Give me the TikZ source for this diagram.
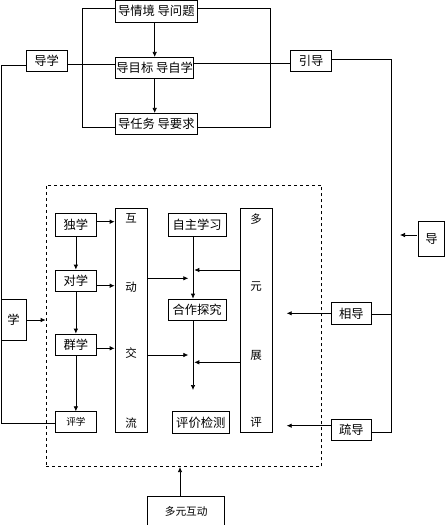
\documentclass[tikz,border=0pt]{standalone}
\usepackage{fontspec}
\setmainfont{Noto Sans CJK SC}
\usetikzlibrary{arrows.meta}
\begin{document}
\begin{tikzpicture}[x=1pt,y=-1pt,line width=0.7pt,
  box/.style={draw,inner sep=0pt,font=\fontsize{12.3}{13}\selectfont},
  sbox/.style={box,font=\fontsize{9.6}{11}\selectfont},
  mbox/.style={box,font=\fontsize{10.7}{11}\selectfont},
  ch/.style={inner sep=0pt,font=\fontsize{11.5}{12}\selectfont},
  arr/.style={-{Latex[length=5pt,width=4.5pt]}}]
\useasboundingbox (0,0) rectangle (445,525);
% top group
\node[box,minimum width=81.3pt,minimum height=21.5pt] (t1) at (156.3,11.2) {导情境 导问题};
\node[box,minimum width=78pt,minimum height=21pt] (m) at (154.7,67.8) {导目标 导自学};
\node[box,minimum width=81.3pt,minimum height=21pt] (b) at (156.3,123.8) {导任务 导要求};
\draw[arr] (t1.south -| m.north) -- (m.north);
\draw[arr] (m.south) -- (b.north -| m.south);
\draw (t1.west |- 0,8.7) -- (82.7,8.7) -- (82.7,127.3) -- (b.west |- 0,127.3);
\draw (t1.east |- 0,8.7) -- (270,8.7) -- (270,127.3) -- (b.east |- 0,127.3);
% left side
\node[box,minimum width=41.3pt,minimum height=21.3pt] (dx) at (46.7,60.7) {导学};
\draw (dx.east |- 0,64.7) -- (m.west |- 0,64.7);
\node[box,minimum width=25pt,minimum height=41pt] (xue) at (13.5,319.5) {学};
\node[sbox,minimum width=41.7pt,minimum height=21pt] (d4) at (75.85,422.2) {评学};
\draw (dx.west |- 0,65.3) -- (1,65.3) -- (1,423.3) -- (d4.west |- 0,423.3);
% dashed frame
\node[draw,dashed,inner sep=0pt,minimum width=275.7pt,minimum height=281.7pt] (frame) at (183.85,325.85) {};
\draw[arr] (xue.east |- 0,320) -- (frame.west |- 0,320);
% learning chain
\node[box,minimum width=41.7pt,minimum height=23.4pt] (d1) at (75.85,225) {独学};
\node[box,minimum width=41.7pt,minimum height=21.7pt] (d2) at (75.85,280.85) {对学};
\node[box,minimum width=41.7pt,minimum height=21pt] (d3) at (75.85,344.5) {群学};
\draw[arr] (d1.south) -- (d2.north);
\draw[arr] (d2.south) -- (d3.north);
\draw[arr] (d3.south) -- (d4.north);
% tall boxes
\node[draw,inner sep=0pt,minimum width=32.3pt,minimum height=224pt] (hd) at (131.15,320.3) {};
\node[ch] (hd1) at (131.15,218) {互};
\node[ch] (hd2) at (131.15,287) {动};
\node[ch] (hd3) at (131.15,353) {交};
\node[ch] (hd4) at (131.15,422.7) {流};
\node[draw,inner sep=0pt,minimum width=32.3pt,minimum height=224pt] (dy) at (256.15,320.3) {};
\node[ch] (dy1) at (256.15,219) {多};
\node[ch] (dy2) at (256.15,287) {元};
\node[ch] (dy3) at (256.15,355) {展};
\node[ch] (dy4) at (256.15,422.7) {评};
\draw[arr] (d1.east |- 0,221.7) -- (hd.west |- 0,221.7);
\draw[arr] (d2.east |- 0,285.7) -- (hd.west |- 0,285.7);
\draw[arr] (d3.east |- 0,348.3) -- (hd.west |- 0,348.3);
% middle column
\node[box,minimum width=57.7pt,minimum height=22.7pt] (z1) at (197.15,224.65) {自主学习};
\node[box,minimum width=57.7pt,minimum height=21.7pt] (z2) at (197.15,309.85) {合作探究};
\node[box,minimum width=57pt,minimum height=21.6pt] (z3) at (200.8,422.5) {评价检测};
\coordinate (ax) at (193,0);
\coordinate (e1) at (193,390);
\draw[arr] (z1.south -| ax) -- (z2.north -| ax);
\draw[arr] (z2.south -| ax) -- (e1);
\coordinate (h1) at (188.3,278.3);
\coordinate (h2) at (188.3,355);
\draw[arr] (hd.east |- h1) -- (h1);
\draw[arr] (hd.east |- h2) -- (h2);
\coordinate (g1) at (194.3,270);
\coordinate (g2) at (194.3,362.3);
\draw[arr] (dy.west |- g1) -- (g1);
\draw[arr] (dy.west |- g2) -- (g2);
% right side
\node[box,minimum width=41pt,minimum height=21.7pt] (yd) at (311.2,60.8) {引导};
\draw (m.east |- 0,63.3) -- (yd.west |- 0,63.3);
\node[box,minimum width=40.7pt,minimum height=21.3pt] (xd) at (351.35,313.35) {相导};
\node[box,minimum width=40.7pt,minimum height=21.4pt] (sd) at (351.35,430) {疏导};
\draw (yd.east |- 0,59) -- (391,59) -- (391,432.7) -- (sd.east |- 0,432.7);
\draw (xd.east |- 0,314.3) -- (391,314.3);
\coordinate (r1) at (286.7,313.3);
\coordinate (r2) at (286.7,425.7);
\draw[arr] (xd.west |- r1) -- (r1);
\draw[arr] (sd.west |- r2) -- (r2);
\node[box,minimum width=26.2pt,minimum height=34.3pt] (dd) at (431.4,238.85) {导};
\coordinate (q1) at (400,235);
\draw[arr] (416.7,235) -- (q1);
% bottom
\node[mbox,minimum width=77pt,minimum height=30pt] (dm) at (186.2,511) {多元互动};
\coordinate (bx) at (180,0);
\draw[arr] (dm.north -| bx) -- (frame.south -| bx);
\end{tikzpicture}
\end{document}
